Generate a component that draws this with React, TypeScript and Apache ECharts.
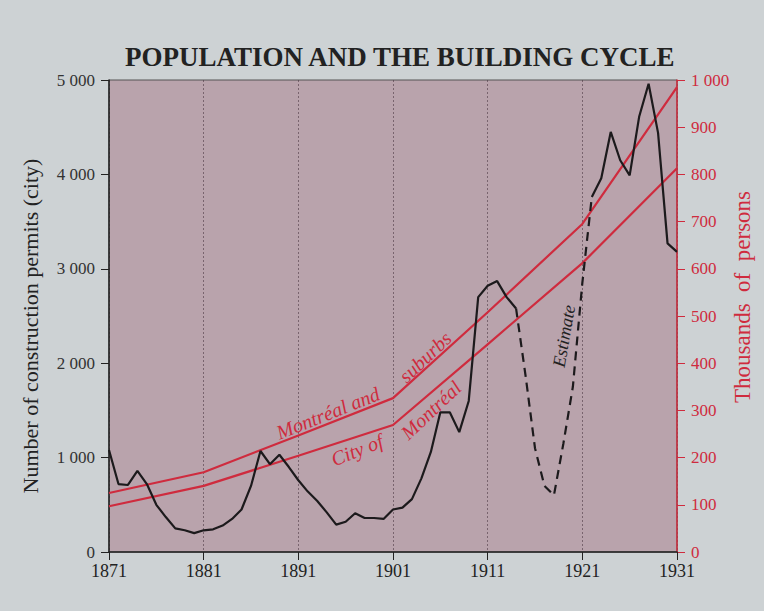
import React, { useEffect, useRef } from "react";
import * as echarts from "echarts";

const TITLE = "POPULATION AND THE BUILDING CYCLE";
const LEFT_NAME = "Number of construction permits (city)";
const RIGHT_NAME = "Thousands  of  persons";
const BASE_YEAR = 1871;

// Construction permits (city), solid part 1871-1914
const permitYearsA = [1871,1872,1873,1874,1875,1876,1877,1878,1879,1880,1881,1882,1883,1884,1885,1886,1887,1888,1889,1890,1891,1892,1893,1894,1895,1896,1897,1898,1899,1900,1901,1902,1903,1904,1905,1906,1907,1908,1909,1910,1911,1912,1913,1914];
const permitsA = [1080,720,710,860,720,500,370,250,230,200,230,240,280,350,450,700,1070,930,1030,900,760,640,540,420,290,320,410,360,360,350,450,470,560,780,1060,1480,1480,1270,1600,2700,2820,2870,2700,2580];
// Estimate (dashed) 1914-1922
const permitYearsEst = [1914,1915,1916,1917,1918,1919,1920,1921,1922];
const permitsEst = [2580,1870,1100,700,600,1150,1750,2850,3760];
// Solid part 1922-1931
const permitYearsB = [1922,1923,1924,1925,1926,1927,1928,1929,1930,1931];
const permitsB = [3760,3960,4450,4150,3990,4610,4960,4440,3270,3180];

// Population (thousands)
const censusYears = [1871,1881,1891,1901,1911,1921,1931];
const suburbsPop = [125,169,247,326,508,695,985];
const cityPop = [97,140,204,269,440,612,813];

const RED = "#cf2b3e";
const SERIF = "'Liberation Serif', 'DejaVu Serif', serif";

const pairs = (xs: number[], ys: number[]) => xs.map((x, i) => [x - BASE_YEAR, ys[i]]);
const spaced = (v: number) => (v >= 1000 ? Math.floor(v / 1000) + " " + String(v % 1000).padStart(3, "0") : String(v));

export default function App() {
  const ref = useRef<HTMLDivElement>(null);
  useEffect(() => {
    if (!ref.current) return;
    const chart = echarts.init(ref.current, undefined, { renderer: "svg" });
    const label = (text: string, x: number, y: number, rotation: number, font: string, fill: string) => ({
      type: "text",
      x,
      y,
      rotation,
      style: { text, fill, font, textAlign: "center", textVerticalAlign: "middle" },
    });
    chart.setOption({
      animation: false,
      backgroundColor: "#cdd2d4",
      title: {
        text: TITLE,
        left: 120,
        top: 38,
        textStyle: { fontFamily: SERIF, fontWeight: "bold", fontSize: 27, color: "#222" },
      },
      grid: {
        left: 109,
        right: 87,
        top: 80,
        bottom: 59,
        show: true,
        backgroundColor: "#b9a3ac",
        borderColor: "#555",
        borderWidth: 1,
      },
      xAxis: {
        type: "value",
        min: 0,
        max: 60,
        interval: 10,
        axisLine: { show: true, lineStyle: { color: "#222", width: 1.5 }, onZero: false },
        axisTick: { show: true, length: 8, lineStyle: { color: "#222" } },
        axisLabel: {
          formatter: (v: number) => String(v + BASE_YEAR),
          fontFamily: SERIF,
          fontSize: 18,
          color: "#222",
          margin: 10,
        },
        splitLine: { show: true, lineStyle: { color: "rgba(70,50,60,0.55)", width: 1, type: [2, 2] } },
      },
      yAxis: [
        {
          type: "value",
          min: 0,
          max: 5000,
          interval: 1000,
          axisLine: { show: true, lineStyle: { color: "#222", width: 1.5 } },
          axisTick: { show: true, length: 8, lineStyle: { color: "#222" } },
          axisLabel: { formatter: spaced, fontFamily: SERIF, fontSize: 17, color: "#333", margin: 14 },
          splitLine: { show: false },
        },
        {
          type: "value",
          min: 0,
          max: 1000,
          interval: 100,
          position: "right",
          axisLine: { show: true, lineStyle: { color: RED, width: 1.5 } },
          axisTick: { show: true, length: 8, lineStyle: { color: RED } },
          axisLabel: { formatter: spaced, fontFamily: SERIF, fontSize: 17, color: RED, margin: 14 },
          splitLine: { show: false },
        },
      ],
      series: [
        {
          type: "line",
          yAxisIndex: 1,
          data: pairs(censusYears, suburbsPop),
          showSymbol: false,
          lineStyle: { color: RED, width: 2.2 },
        },
        {
          type: "line",
          yAxisIndex: 1,
          data: pairs(censusYears, cityPop),
          showSymbol: false,
          lineStyle: { color: RED, width: 2.2 },
        },
        {
          type: "line",
          data: pairs(permitYearsA, permitsA),
          showSymbol: false,
          lineStyle: { color: "#1c1a1c", width: 2.2 },
        },
        {
          type: "line",
          data: pairs(permitYearsEst, permitsEst),
          showSymbol: false,
          lineStyle: { color: "#1c1a1c", width: 2.2, type: [9, 6] },
        },
        {
          type: "line",
          data: pairs(permitYearsB, permitsB),
          showSymbol: false,
          lineStyle: { color: "#1c1a1c", width: 2.2 },
        },
      ],
      graphic: [
        label(LEFT_NAME, 30, 326, Math.PI / 2, "22px " + SERIF, "#222"),
        label(RIGHT_NAME, 742, 297, Math.PI / 2, "23px " + SERIF, RED),
        label("Montréal and", 328, 413, 0.38, "italic 20px " + SERIF, RED),
        label("suburbs", 425, 357, 0.76, "italic 20px " + SERIF, RED),
        label("City of", 357, 450, 0.38, "italic 20px " + SERIF, RED),
        label("Montréal", 431, 410, 0.76, "italic 20px " + SERIF, RED),
        label("Estimate", 564, 336, 1.4, "italic 18px " + SERIF, "#222"),
      ],
    });
    return () => chart.dispose();
  }, []);
  return <div ref={ref} style={{ position: "fixed", left: 0, top: 0, width: 764, height: 611 }} />;
}
